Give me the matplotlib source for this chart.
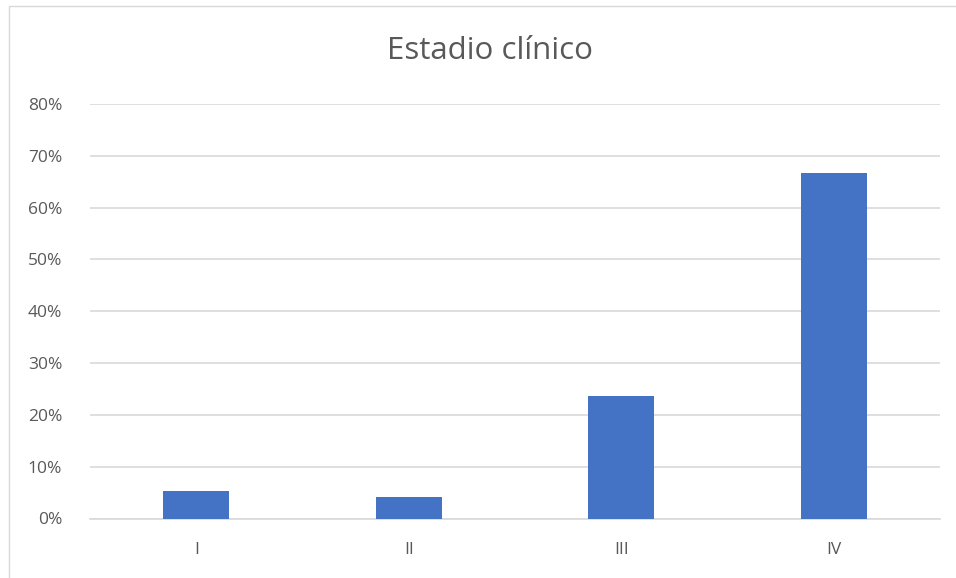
import matplotlib
matplotlib.use("Agg")
from matplotlib import pyplot as plt
from matplotlib.patches import Rectangle
from matplotlib.ticker import PercentFormatter

# Share of patients by clinical stage
stages = ['I', 'II', 'III', 'IV']
shares = [0.053, 0.042, 0.236, 0.667]
y_ticks = [0, 0.1, 0.2, 0.3, 0.4, 0.5, 0.6, 0.7, 0.8]

plt.rcParams['font.family'] = ['Open Sans', 'DejaVu Sans']

fig = plt.figure(figsize=(9.56, 5.78), dpi=100)
ax = fig.add_axes([90 / 956, 1 - 518.5 / 578, 850 / 956, 414.5 / 578])

ax.bar(stages, shares, width=0.31, color='#4472C4', zorder=3)
ax.set_xlim(-0.5, len(stages) - 0.5)
ax.set_ylim(0, 0.8)
ax.set_yticks(y_ticks)
ax.yaxis.set_major_formatter(PercentFormatter(1.0, decimals=0))
ax.grid(axis='y', color='#d9d9d9', linewidth=1.2, zorder=0)

for side in ['top', 'right', 'left']:
    ax.spines[side].set_visible(False)
ax.spines['bottom'].set_color('#d9d9d9')
ax.spines['bottom'].set_linewidth(1.2)
ax.tick_params(length=0, colors='#595959', labelsize=12.5)
ax.tick_params(axis='x', pad=17)
ax.tick_params(axis='y', pad=20)

fig.text(490 / 956, 1 - 51 / 578, 'Estadio clínico', ha='center', va='center',
         fontsize=22.5, color='#595959')

# outer chart frame (only top and left edges are visible in the crop)
fig.patches.append(Rectangle((9 / 956, -0.1), 1.1, 1 - 6 / 578 + 0.1,
                             transform=fig.transFigure, fill=False,
                             edgecolor='#d9d9d9', linewidth=1))

fig.savefig('out.png', dpi=100)
